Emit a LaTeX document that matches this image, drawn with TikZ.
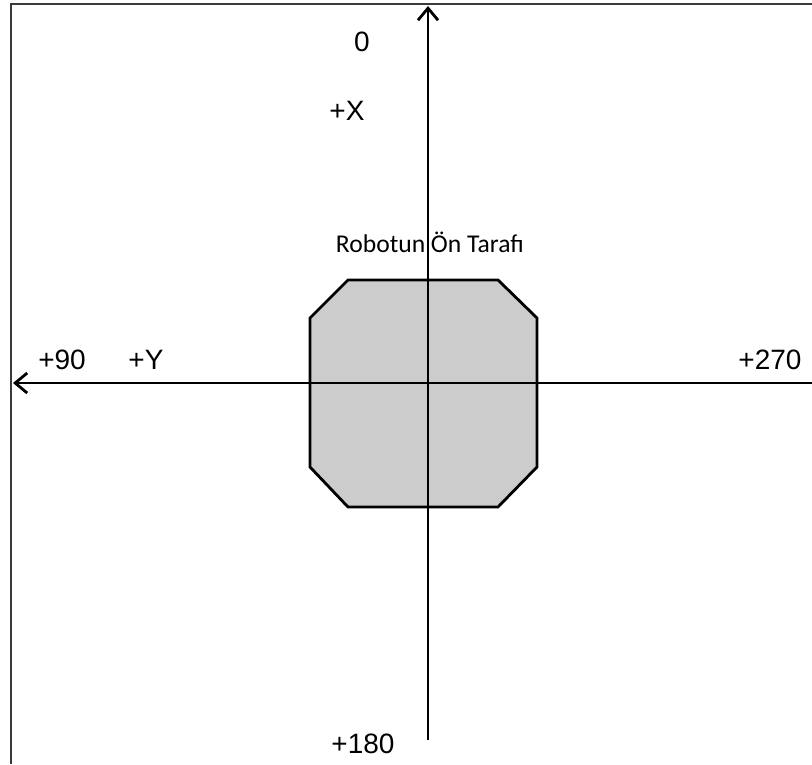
\documentclass[tikz,border=0pt]{standalone}
\usepackage{fontspec}
\setmainfont{Liberation Sans}
\newfontfamily\calfont{Carlito}
\usepackage{xcolor}
\usetikzlibrary{arrows.meta,positioning}
\definecolor{Ink}{HTML}{000000}
\definecolor{Frame}{HTML}{3A3A3A}
\definecolor{Body}{HTML}{CCCCCC}
\tikzset{
  frame/.style={draw=Frame, line width=1.2pt},
  axis/.style={-{Straight Barb[length=6pt,width=10pt,line width=1.4pt]}, line width=1.4pt, draw=Ink},
  body/.style={draw=Ink, fill=Body, line width=1.4pt, line join=miter},
  lbl/.style={font=\fontsize{14}{16}\selectfont, text=Ink, inner sep=0pt},
  side/.style={font=\calfont\fontsize{12.8}{15}\selectfont, text=Ink, inner sep=0pt}
}
\begin{document}
\begin{tikzpicture}[x=0.5pt, y=-0.5pt]
  \useasboundingbox (0,0) rectangle (812,764);

  % page frame
  \coordinate (fl) at (11,764);
  \coordinate (fc) at (11,4);
  \coordinate (fr) at (812,4);
  \draw[frame] (fl) -- (fc) -- (fr);

  % robot body
  \draw[body] (348,280) -- (498,280) -- (537,318) -- (537,467) -- (498,507)
    -- (348,507) -- (310,467) -- (310,318) -- cycle;

  % axes
  \coordinate (xs) at (428,740);
  \coordinate (xe) at (428,6);
  \coordinate (ys) at (812,383);
  \coordinate (ye) at (13,383);
  \draw[axis] (xs) -- (xe);
  \draw[axis] (ys) -- (ye);

  % labels
  \node[lbl] (zero) at (362,42) {0};
  \node[lbl] (px) at (347,111) {+X};
  \node[side] (front) at (430,242) {Robotun Ön Tarafı};
  \node[lbl] (p90) at (62,360) {+90};
  \node[lbl] (py) at (146,360) {+Y};
  \node[lbl] (p270) at (770,360) {+270};
  \node[lbl] (p180) at (363,744) {+180};
\end{tikzpicture}
\end{document}
